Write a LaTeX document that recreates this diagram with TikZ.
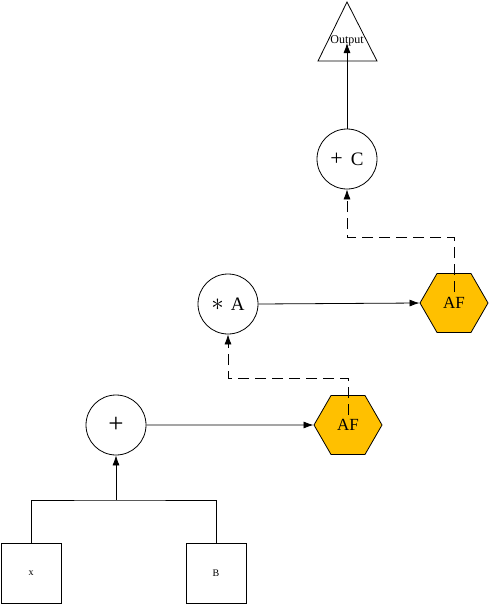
\documentclass[tikz,border=0pt]{standalone}
\usepackage{fontspec}
\setmainfont{Liberation Serif}
\usetikzlibrary{shapes.geometric,arrows.meta}

\begin{document}
\begin{tikzpicture}[x=1pt,y=-1pt,line width=0.8pt,
  tip/.style={-{Latex[length=10pt,width=7pt]}},
  opnode/.style={draw,circle,minimum size=60pt,inner sep=0pt,font=\fontsize{19}{19}\selectfont},
  afnode/.style={draw,regular polygon,regular polygon sides=6,minimum size=68pt,inner sep=0pt,
    fill={rgb,255:red,255;green,192;blue,0},font=\fontsize{17}{17}\selectfont},
  inbox/.style={draw,rectangle,minimum size=60pt,inner sep=0pt,font=\fontsize{10}{10}\selectfont},
  feed/.style={dashed,dash pattern=on 11pt off 6pt}]

\useasboundingbox (0,0) rectangle (490,605);

% output triangle
\draw (347,2) -- (377,61) -- (318,61) -- cycle;
\node (out) at (347,41) [font=\fontsize{12}{12}\selectfont,inner sep=0pt] {Output};
\coordinate (outtip) at (347,43);

% operations
\node (addc) at (347,159) [opnode] {{\fontsize{22}{22}\selectfont +}\hspace{8pt}C};
\node (mula) at (228,304) [opnode] {{\fontsize{24}{24}\selectfont$\ast$}\hspace{7pt}A};
\node (add)  at (116,425) [opnode,font=\fontsize{27}{27}\selectfont] {+};

\node (af2) at (454,303) [afnode] {AF};
\node (af1) at (348,425) [afnode] {AF};

\node (x) at (31,573)  [inbox] {x};
\node (b) at (216,573) [inbox] {B};
\coordinate (join) at (116,500);

%%%%%%%%%%%%%%%%%%%%%%%%%%%%%%%%%%%%%%%%%%%%%%%%%%%%%%%%%%%%%%%%%%%%%%%%%%%%%%%%%%
\draw (x.north) |- (join) -| (b.north);
\draw [tip] (join) to (add.south);
\draw [tip] (add.east) to (af1.west);
\draw [tip] (mula.east) to (af2.west);
\draw [tip] (addc.north) to (outtip);

\draw [feed, tip] ([yshift=10pt]af1.center) -- ++(0,-37) -| (mula.south);
\draw [feed, tip] ([yshift=11pt]af2.center) -- ++(0,-55) -| (addc.south);
%%%%%%%%%%%%%%%%%%%%%%%%%%%%%%%%%%%%%%%%%%%%%%%%%%%%%%%%%%%%%%%%%%%%%%%%%%%%%%%%%%

\end{tikzpicture}
\end{document}
